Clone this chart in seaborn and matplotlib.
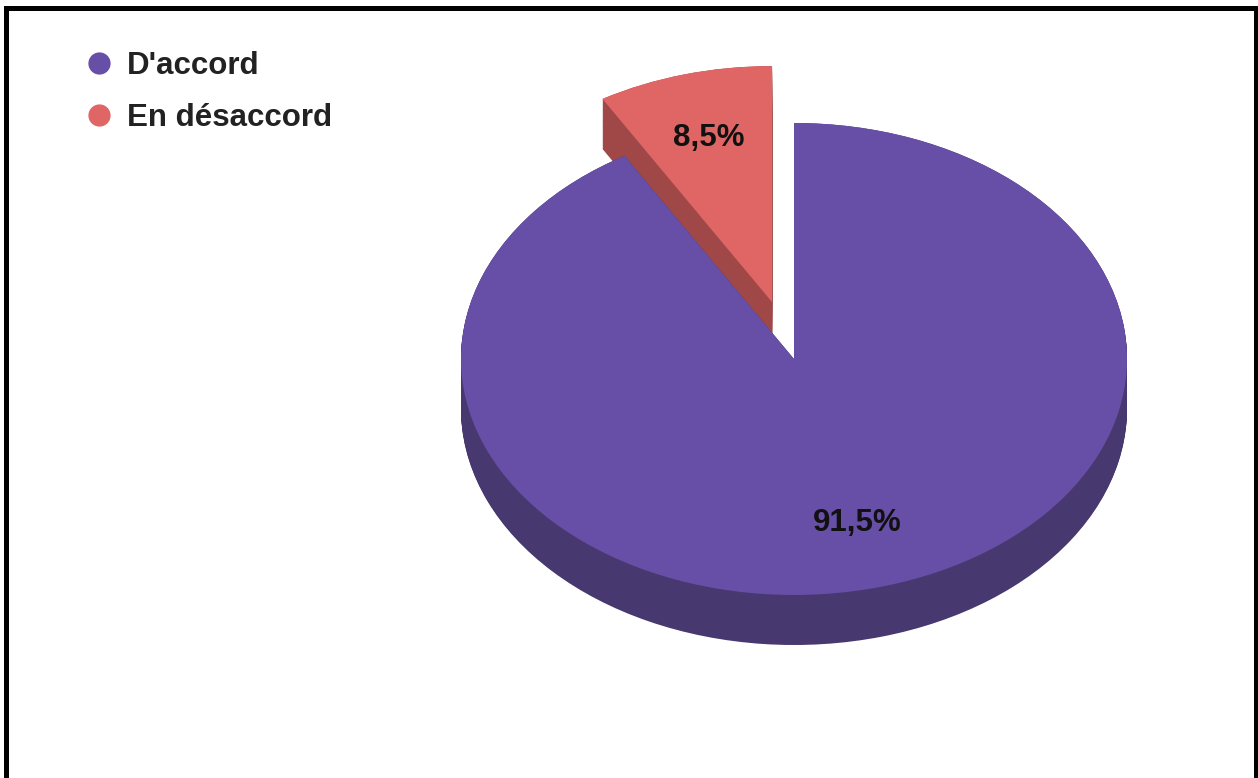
import numpy as np
import seaborn as sns
import matplotlib.pyplot as plt
from matplotlib.lines import Line2D
from matplotlib.patches import Rectangle

# donnees
categories = ["D'accord", "En désaccord"]
valeurs = [91.5, 8.5]
couleurs = ["#674ea7", "#e06666"]
couleurs_cote = ["#47386f", "#a04848"]

sns.set_theme(style="white")
plt.rcParams['font.family'] = ['Liberation Sans', 'DejaVu Sans']

W, H = 1258, 778
fig = plt.figure(figsize=(W / 100, H / 100), dpi=100)
ax = fig.add_axes([0, 0, 1, 1])

# geometrie du camembert (en pixels)
cx, cy = 794, 359
rx, ry = 333, 236
profondeur = 50
s = ry / rx  # aplatissement vertical

# ordre : la part rouge commence a midi, vers la gauche
vals = valeurs[::-1]
top_cols = couleurs[::-1]
side_cols = couleurs_cote[::-1]
eclat = [0.25 * rx, 0]

centre = (cx, (H - cy) / s)

# epaisseur : empilement de camemberts plus sombres
for d in np.linspace(profondeur, 0, 60):
    ax.pie(vals, colors=side_cols, startangle=90, counterclock=True,
           explode=eclat, radius=rx, center=(centre[0], centre[1] - d / s),
           wedgeprops=dict(linewidth=0, antialiased=True), frame=True)

# face du dessus
wedges, _, autotexts = ax.pie(
    vals, colors=top_cols, startangle=90, counterclock=True,
    explode=eclat, radius=rx, center=centre, pctdistance=0.72,
    autopct=lambda p: f"{p:.1f}%".replace('.', ','),
    wedgeprops=dict(linewidth=0), frame=True,
    textprops=dict(fontsize=22.5, fontweight='bold', color='#111111'))

ax.set_aspect('auto')
ax.set_xlim(0, W)
ax.set_ylim(0, H / s)
ax.axis('off')

# legende
handles = [Line2D([], [], marker='o', linestyle='', markersize=15,
                  markerfacecolor=c, markeredgecolor=c) for c in couleurs]
leg = fig.legend(handles, categories, loc='upper left',
                 bbox_to_anchor=(0.0575, 0.95), frameon=False,
                 handletextpad=0.45, labelspacing=0.7, borderaxespad=0,
                 handlelength=0.9,
                 prop=dict(size=22.5, weight='bold'))
for t in leg.get_texts():
    t.set_color('#222222')

# cadre noir (sans bord inferieur)
fig.add_artist(Rectangle((5.5 / W, -0.05), (1256 - 5.5) / W, 1.05 - 7.5 / H,
                         transform=fig.transFigure, fill=False,
                         edgecolor='black', linewidth=3.6))

fig.savefig('out.png', dpi=100)
